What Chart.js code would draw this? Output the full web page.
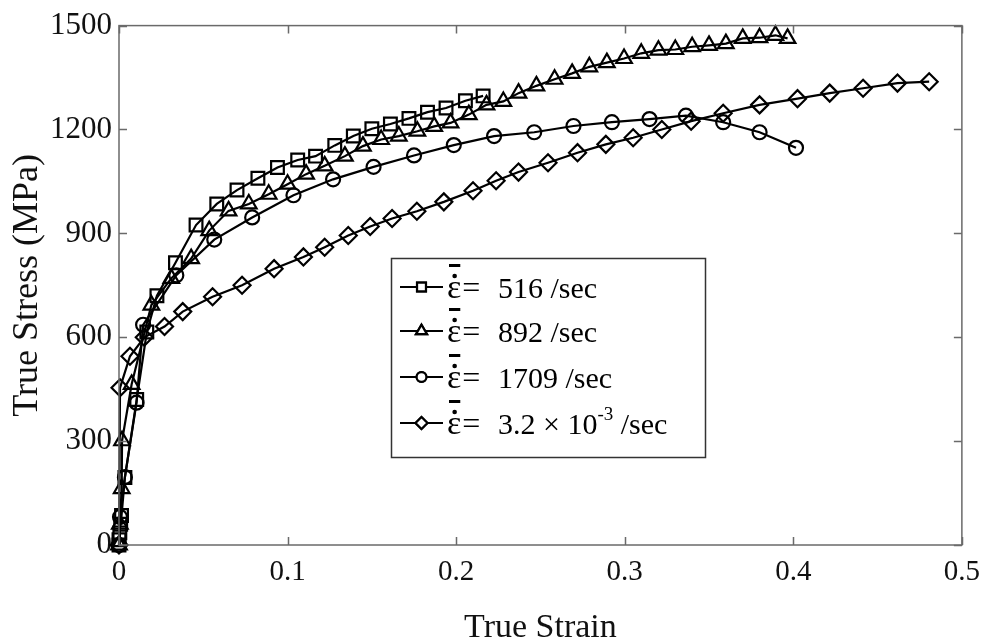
<!DOCTYPE html>
<html><head><meta charset="utf-8">
<script src="https://cdn.jsdelivr.net/npm/chart.js@4.4.0/dist/chart.umd.min.js"></script>
<style>html,body{margin:0;padding:0;background:#fff;}#wrap{width:990px;height:644px;position:relative;}</style>
</head><body><div id="wrap"><canvas id="c" width="990" height="644"></canvas></div>
<script>
// ---- data ----
const xTicks = [0, 0.1, 0.2, 0.3, 0.4, 0.5];
const yTicks = [0, 300, 600, 900, 1200, 1500];
const seriesLabels = ['516 /sec', '892 /sec', '1709 /sec', '3.2 × 10^-3 /sec'];

const strain516 = [0, 0, 0.0005, 0.001, 0.0015, 0.0035, 0.0105, 0.0165, 0.0225, 0.0335, 0.0457, 0.058, 0.070, 0.0824, 0.094, 0.106, 0.1166, 0.128, 0.139, 0.150, 0.161, 0.172, 0.183, 0.194, 0.2055, 0.216];
const stress516 = [0, 15, 35, 60, 85, 195, 420, 615, 720, 815, 924, 985, 1025, 1059, 1090, 1112, 1123, 1154, 1181, 1202, 1216, 1232, 1250, 1262, 1283, 1297];

const strain892 = [0, 0.0005, 0.0016, 0.0018, 0.0075, 0.0192, 0.031, 0.0428, 0.0535, 0.065, 0.077, 0.0888, 0.100, 0.111, 0.122, 0.134, 0.1447, 0.1555, 0.166, 0.177, 0.187, 0.1967, 0.2075, 0.218, 0.228, 0.237, 0.2476, 0.2584, 0.2688, 0.279, 0.2894, 0.2996, 0.3098, 0.320, 0.330, 0.340, 0.350, 0.360, 0.370, 0.380, 0.3894, 0.3966];
const stress892 = [0, 60, 163, 301, 464, 693, 770, 827, 908, 965, 985, 1013, 1042, 1071, 1095, 1123, 1152, 1171, 1181, 1195, 1209, 1219, 1243, 1271, 1281, 1305, 1326, 1345, 1362, 1381, 1393, 1405, 1420, 1429, 1431, 1439, 1443, 1448, 1463, 1465, 1472, 1463];

const strain1709 = [0, 0.0006, 0.0035, 0.0104, 0.0143, 0.034, 0.0565, 0.079, 0.1035, 0.127, 0.151, 0.175, 0.1986, 0.2225, 0.2463, 0.2696, 0.2924, 0.3147, 0.3363, 0.3584, 0.380, 0.4016];
const stress1709 = [0, 81, 196, 411, 636, 779, 882, 946, 1010, 1056, 1092, 1125, 1155, 1181, 1192, 1210, 1221, 1230, 1240, 1221, 1192, 1147];

const strainQS = [0, 0.0006, 0.0065, 0.015, 0.027, 0.0378, 0.0555, 0.073, 0.092, 0.1094, 0.122, 0.136, 0.149, 0.162, 0.1767, 0.1927, 0.210, 0.2237, 0.237, 0.2545, 0.272, 0.2888, 0.305, 0.322, 0.3394, 0.3584, 0.380, 0.4025, 0.4216, 0.4414, 0.4618, 0.4806];
const stressQS = [0, 454, 545, 600, 631, 674, 717, 750, 798, 832, 860, 894, 920, 943, 964, 991, 1023, 1052, 1077, 1104, 1133, 1157, 1176, 1200, 1224, 1247, 1271, 1289, 1305, 1319, 1334, 1338];

// ---- build ----
const FONT = "'Liberation Serif','Times New Roman',serif";
Chart.defaults.font.family = FONT;
Chart.defaults.color = '#111';

function pts(xs, ys) { return xs.map((x, i) => ({x: x, y: ys[i]})); }
const styles = [
  {pointStyle: 'rect', r: 9},
  {pointStyle: 'triangle', r: 9},
  {pointStyle: 'circle', r: 7},
  {pointStyle: 'rectRot', r: 8.5}
];
const seriesData = [pts(strain516, stress516), pts(strain892, stress892), pts(strain1709, stress1709), pts(strainQS, stressQS)];

const datasets = seriesData.map((d, i) => ({
  label: seriesLabels[i],
  data: d,
  showLine: true,
  borderColor: '#000',
  borderWidth: 2.2,
  backgroundColor: '#fff',
  pointStyle: styles[i].pointStyle,
  pointRadius: styles[i].r,
  pointBorderWidth: 2.2,
  pointBorderColor: '#000',
  pointBackgroundColor: 'rgba(255,255,255,0)',
  tension: 0,
  clip: false
}));

const framePlugin = {
  id: 'frame',
  afterDatasetsDraw(chart) {
    const {ctx, chartArea: a, scales: {x, y}} = chart;
    ctx.save();
    ctx.strokeStyle = '#6a6a6a';
    ctx.lineWidth = 1.5;
    ctx.strokeRect(a.left, a.top, a.right - a.left, a.bottom - a.top);
    const L = 8;
    ctx.beginPath();
    xTicks.forEach(v => {
      const px = Math.round(x.getPixelForValue(v)) + 0.5;
      ctx.moveTo(px, a.bottom); ctx.lineTo(px, a.bottom - L);
      ctx.moveTo(px, a.top); ctx.lineTo(px, a.top + L);
    });
    yTicks.forEach(v => {
      const py = Math.round(y.getPixelForValue(v)) + 0.5;
      ctx.moveTo(a.left, py); ctx.lineTo(a.left + L, py);
      ctx.moveTo(a.right, py); ctx.lineTo(a.right - L, py);
    });
    ctx.stroke();
    ctx.restore();
  }
};

const legendPlugin = {
  id: 'boxLegend',
  afterDraw(chart) {
    const {ctx} = chart;
    const bx = 391.5, by = 258.5, bw = 314, bh = 199;
    ctx.save();
    ctx.fillStyle = '#fff';
    ctx.fillRect(bx, by, bw, bh);
    ctx.strokeStyle = '#333';
    ctx.lineWidth = 1.5;
    ctx.strokeRect(bx, by, bw, bh);
    const rows = [287, 331, 377, 423];
    chart.data.datasets.forEach((ds, i) => {
      const cy = rows[i];
      ctx.strokeStyle = '#000';
      ctx.lineWidth = 2.2;
      ctx.beginPath(); ctx.moveTo(400, cy); ctx.lineTo(443, cy); ctx.stroke();
      ctx.fillStyle = '#fff';
      Chart.helpers.drawPoint(ctx, {pointStyle: ds.pointStyle, radius: ds.pointRadius * 0.7, borderWidth: 2.2, rotation: 0}, 421.5, cy);
      ctx.fill(); ctx.stroke();
      // epsilon with dot and bar
      ctx.fillStyle = '#000';
      ctx.textBaseline = 'alphabetic';
      ctx.font = '34px ' + FONT;
      const base = cy + 11;
      const ex = 447;
      const ew = ctx.measureText('ε').width;
      ctx.fillText('ε', ex, base);
      ctx.beginPath(); ctx.arc(ex + ew / 2 + 0.5, base - 22, 2.3, 0, Math.PI * 2); ctx.fill();
      ctx.fillRect(ex + 2, base - 34, ew - 3, 3);
      ctx.font = '32px ' + FONT;
      ctx.fillText('=', ex + ew + 1, base);
      // value text
      ctx.font = '30px ' + FONT;
      const lab = ds.label;
      let tx = 498;
      if (lab.indexOf('^') >= 0) {
        const m = lab.match(/^(.*)\^(\S+)(.*)$/);
        ctx.fillText(m[1], tx, base); tx += ctx.measureText(m[1]).width;
        ctx.font = '19px ' + FONT;
        ctx.fillText(m[2], tx, base - 14); tx += ctx.measureText(m[2]).width;
        ctx.font = '30px ' + FONT;
        ctx.fillText(m[3], tx, base);
      } else {
        ctx.fillText(lab, tx, base);
      }
    });
    ctx.restore();
  }
};

new Chart(document.getElementById('c'), {
  type: 'scatter',
  data: {datasets: datasets},
  options: {
    responsive: false,
    animation: false,
    devicePixelRatio: 1,
    layout: {padding: {top: 22, right: 21, left: 0, bottom: 0}},
    plugins: {legend: {display: false}, tooltip: {enabled: false}},
    scales: {
      x: {
        type: 'linear', min: 0, max: 0.5,
        afterBuildTicks: s => { s.ticks = xTicks.map(v => ({value: v})); },
        afterFit: s => { s.height = 99; },
        grid: {display: false, drawTicks: false},
        border: {display: false},
        ticks: {padding: 10, font: {size: 29}, color: '#111',
          callback: v => (v === 0 ? '0' : (+v).toFixed(1))},
        title: {display: true, text: 'True Strain', font: {size: 34}, color: '#111', padding: {top: 0, bottom: -4}}
      },
      y: {
        type: 'linear', min: 0, max: 1500,
        afterBuildTicks: s => { s.ticks = yTicks.map(v => ({value: v})); },
        afterFit: s => { s.width = 119; },
        grid: {display: false, drawTicks: false},
        border: {display: false},
        ticks: {padding: 7, font: {size: 31}, color: '#111', callback: v => String(v)},
        title: {display: true, text: 'True Stress (MPa)', font: {size: 36}, color: '#111', padding: {top: 6, bottom: 0}}
      }
    }
  },
  plugins: [framePlugin, legendPlugin]
});
</script></body></html>
